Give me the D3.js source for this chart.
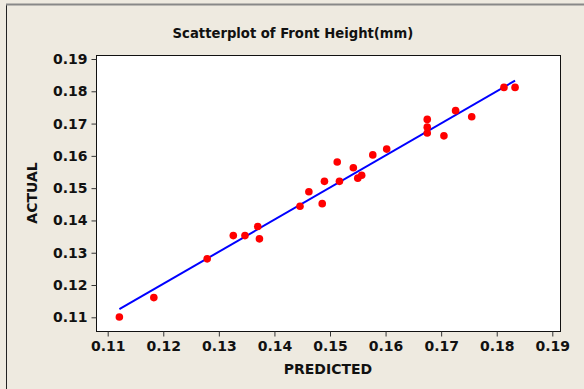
<!DOCTYPE html>
<html>
<head>
<meta charset="utf-8">
<script src="https://cdn.jsdelivr.net/npm/d3@7"></script>
<style>
  body { margin: 0; background: #eeeae0; }
  text { font-family: "DejaVu Sans", Verdana, sans-serif; font-weight: bold; fill: #111; }
</style>
</head>
<body>
<div id="chart"></div>
<script>
// predicted vs actual front height (mm)
var predicted = [0.1121, 0.1183, 0.1279, 0.1326, 0.1347, 0.1370, 0.1373, 0.1446, 0.1462, 0.1486,
                 0.1490, 0.1513, 0.1517, 0.1542, 0.1550, 0.1557, 0.1577, 0.1602, 0.1675, 0.1675,
                 0.1675, 0.1705, 0.1726, 0.1755, 0.1813, 0.1833];
var actual    = [0.1101, 0.1161, 0.1281, 0.1353, 0.1353, 0.1381, 0.1343, 0.1444, 0.1489, 0.1452,
                 0.1521, 0.1581, 0.1521, 0.1563, 0.1531, 0.1540, 0.1603, 0.1621, 0.1713, 0.1689,
                 0.1671, 0.1662, 0.1740, 0.1721, 0.1812, 0.1812];
var fitX = [0.1121, 0.1833];
var fitY = [0.1125, 0.1833];
var tickVals = [0.11, 0.12, 0.13, 0.14, 0.15, 0.16, 0.17, 0.18, 0.19];

var width = 584, height = 389;
var frame = {left: 96, right: 560, top: 55, bottom: 331};

var svg = d3.select("#chart").append("svg")
  .attr("width", width).attr("height", height);

// window border (cropped on the right/bottom)
svg.append("rect").attr("x", 6.5).attr("y", 4.5).attr("width", 600).attr("height", 400)
  .attr("fill", "#eeeae0").attr("stroke", "#222");
svg.append("line").attr("x1", 6).attr("x2", 584).attr("y1", 4.5).attr("y2", 4.5)
  .attr("stroke", "#888").attr("stroke-width", 2);

var x = d3.scaleLinear().domain([0.11, 0.19]).range([107.7, 552.3]);
var y = d3.scaleLinear().domain([0.11, 0.19]).range([317.3, 59]);

svg.append("rect")
  .attr("x", frame.left + 0.5).attr("y", frame.top + 0.5)
  .attr("width", frame.right - frame.left).attr("height", frame.bottom - frame.top)
  .attr("fill", "#fff").attr("stroke", "#111");

var xAxis = svg.append("g").attr("transform", "translate(0," + (frame.bottom + 0.5) + ")")
  .call(d3.axisBottom(x).tickValues(tickVals).tickFormat(d3.format(".2f")).tickSize(5).tickPadding(5));
var yAxis = svg.append("g").attr("transform", "translate(" + (frame.left + 0.5) + ",0)")
  .call(d3.axisLeft(y).tickValues(tickVals).tickFormat(d3.format(".2f")).tickSize(5).tickPadding(4));
[xAxis, yAxis].forEach(function(g) {
  g.select(".domain").remove();
  g.selectAll(".tick line").attr("stroke", "#333");
  g.selectAll("text").style("font-size", "14px").attr("fill", "#111");
});

svg.append("line")
  .attr("x1", x(fitX[0])).attr("y1", y(fitY[0]))
  .attr("x2", x(fitX[1])).attr("y2", y(fitY[1]))
  .attr("stroke", "#0000ff").attr("stroke-width", 2);

svg.append("g").selectAll("circle")
  .data(d3.range(predicted.length))
  .enter().append("circle")
  .attr("cx", function(i) { return x(predicted[i]); })
  .attr("cy", function(i) { return y(actual[i]); })
  .attr("r", 3.8)
  .attr("fill", "#ff0000");

svg.append("text").attr("x", 293).attr("y", 38).attr("text-anchor", "middle")
  .style("font-size", "13.2px").text("Scatterplot of Front Height(mm)");
svg.append("text").attr("x", 328).attr("y", 374).attr("text-anchor", "middle")
  .style("font-size", "14px").text("PREDICTED");
svg.append("text").attr("transform", "translate(37,193) rotate(-90)").attr("text-anchor", "middle")
  .style("font-size", "14px").text("ACTUAL");
</script>
</body>
</html>
